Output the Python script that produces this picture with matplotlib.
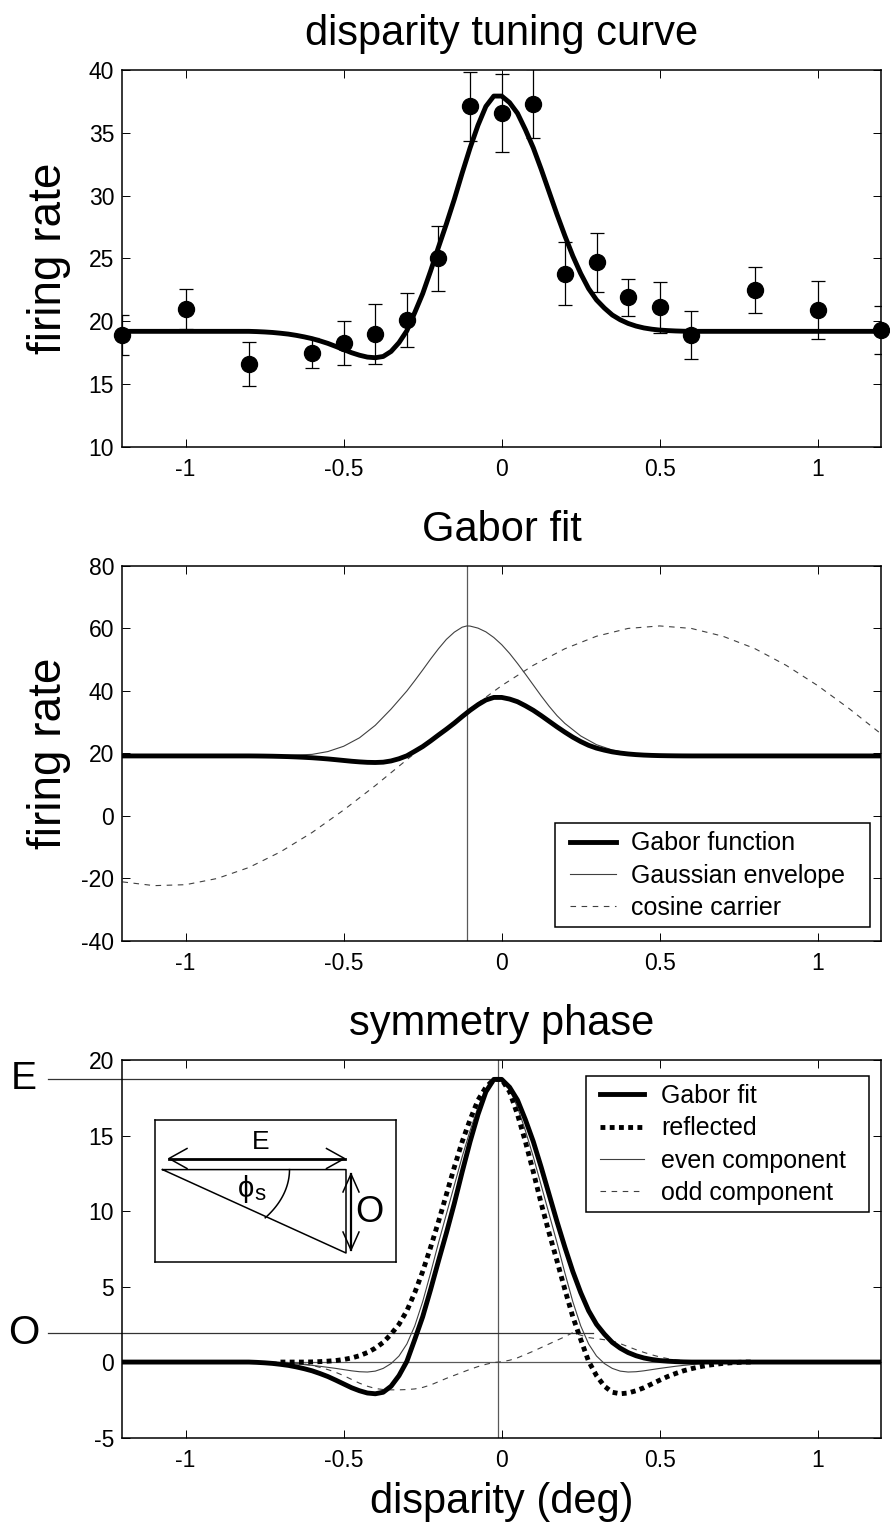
import numpy as np
import matplotlib
matplotlib.use('Agg')
import matplotlib.pyplot as plt
from matplotlib.patches import Rectangle
from matplotlib.transforms import blended_transform_factory

plt.rcParams['font.family'] = ['Liberation Sans', 'DejaVu Sans']
plt.rcParams['axes.unicode_minus'] = False

##########################################################################################
# data
##########################################################################################
# disparity tuning curve: mean firing rate +- s.e.m.
disp_pts = [-1.2, -1.0, -0.8, -0.6, -0.5, -0.4, -0.3, -0.2, -0.1, 0.0,
            0.1, 0.2, 0.3, 0.4, 0.5, 0.6, 0.8, 1.0, 1.2]
rate_pts = [18.9, 21.0, 16.6, 17.5, 18.3, 19.0, 20.1, 25.0, 37.1, 36.6,
            37.3, 23.8, 24.7, 21.9, 21.1, 18.9, 22.5, 20.9, 19.3]
rate_sem = [1.6, 1.6, 1.75, 1.2, 1.75, 2.4, 2.15, 2.6, 2.75, 3.1,
            2.75, 2.5, 2.35, 1.45, 2.0, 1.9, 1.85, 2.3, 1.9]

baseline = 19.2   # spontaneous rate of the Gabor fit

# Gabor fit with the baseline removed
fit_disp = [-1.2, -1.0] + list(np.round(np.linspace(-0.8, 0.6, 57), 3)) + [0.8, 1.0, 1.2]
fit_resp = [0, 0, 0, -0.02, -0.05, -0.09, -0.15, -0.22, -0.32, -0.44, -0.58, -0.76,
            -0.96, -1.20, -1.45, -1.70, -1.90, -2.05, -2.10, -2.00, -1.60, -0.90, 0.05,
            1.50, 3.00, 4.80, 6.70, 8.55, 10.50, 12.60, 14.60, 16.40, 17.90, 18.72, 18.72,
            18.20, 17.35, 16.05, 14.60, 12.90, 11.10, 9.30, 7.60, 6.00, 4.60, 3.40, 2.50,
            1.85, 1.30, 0.92, 0.63, 0.42, 0.27, 0.17, 0.10, 0.06, 0.03, 0.01, 0, 0, 0, 0]

# Gaussian envelope and cosine carrier of the fit
env_disp = [-1.2, -0.8, -0.7, -0.6, -0.55, -0.5, -0.45, -0.4, -0.35, -0.3, -0.275, -0.25,
            -0.225, -0.2, -0.175, -0.15, -0.125, -0.11, -0.1, -0.075, -0.05, -0.025, 0.0,
            0.025, 0.05, 0.075, 0.1, 0.125, 0.15, 0.175, 0.2, 0.25, 0.3, 0.35, 0.4, 0.45,
            0.5, 0.6, 1.2]
env_rate = [19.2, 19.2, 19.3, 19.7, 20.6, 22.3, 25.0, 29.0, 34.2, 40.0, 43.3, 46.7,
            50.2, 53.5, 56.5, 58.8, 60.4, 60.8, 60.75, 60.1, 58.9, 57.1, 54.8,
            52.0, 48.8, 45.4, 41.9, 38.4, 35.1, 32.1, 29.6, 25.6, 22.8, 21.1, 20.1, 19.6,
            19.4, 19.2, 19.2]
car_disp = list(np.round(np.linspace(-1.2, 1.2, 25), 2))
car_rate = [-21.1, -22.3, -22.0, -20.0, -16.5, -11.5, -5.3, 1.9, 9.7, 18.0, 26.2, 34.3,
            41.7, 48.2, 53.5, 57.5, 60.0, 60.8, 60.0, 57.5, 53.6, 48.2, 41.7, 34.3, 26.3]

# symmetry phase decomposition
mirror_x  = -0.0125
refl_disp = list(np.round(np.linspace(-0.7, 0.8, 61), 3))
refl_resp = [0, 0, 0, 0, 0.01, 0.03, 0.06, 0.10, 0.17, 0.27, 0.42, 0.63, 0.92, 1.30,
             1.85, 2.50, 3.40, 4.60, 6.00, 7.60, 9.30, 11.10, 12.90, 14.60, 16.05, 17.35,
             18.20, 18.72, 18.72, 17.90, 16.40, 14.60, 12.60, 10.50, 8.55, 6.70, 4.80,
             3.00, 1.50, 0.05, -0.90, -1.60, -2.00, -2.10, -2.05, -1.90, -1.70, -1.45,
             -1.20, -0.96, -0.76, -0.58, -0.44, -0.32, -0.22, -0.15, -0.09, -0.05, -0.02, 0, 0]
comp_disp = list(np.round(np.linspace(-0.8, 0.8, 65), 3))
even_resp = [0, -0.005, -0.015, -0.03, -0.05, -0.08, -0.12, -0.17, -0.22, -0.28, -0.35,
             -0.42, -0.5, -0.58, -0.64, -0.66, -0.6, -0.42, -0.1, 0.4, 1.2, 2.4, 4.0, 5.9,
             7.9, 9.8, 11.7, 13.6, 15.325, 16.875, 18.05, 18.72,
             18.72, 18.05, 16.875, 15.325, 13.6, 11.7, 9.8, 7.9, 5.9, 4.0, 2.4, 1.2, 0.4,
             -0.1, -0.42, -0.6, -0.66, -0.64, -0.58, -0.5, -0.42, -0.35, -0.28, -0.22,
             -0.17, -0.12, -0.08, -0.05, -0.03, -0.015, -0.005, 0, 0]
odd_resp  = [0, 0, 0, 0, -0.01, -0.03, -0.07, -0.13, -0.22, -0.35, -0.5, -0.68, -0.9,
             -1.15, -1.4, -1.6, -1.75, -1.82, -1.84, -1.84, -1.82, -1.78, -1.68, -1.52,
             -1.3, -1.08, -0.88, -0.68, -0.48, -0.3, -0.15, -0.03,
             0.02, 0.12, 0.28, 0.50, 0.72, 0.96, 1.20, 1.44, 1.68, 1.95, 1.78, 1.62, 1.55,
             1.48, 1.40, 1.22, 1.02, 0.82, 0.64, 0.48, 0.34, 0.23, 0.15, 0.09, 0.05, 0.02,
             0, 0, 0, 0, 0, 0, 0]

fit_rate = baseline + np.array(fit_resp)
ref_col  = '0.35'
thin_col = '0.25'

##########################################################################################
# figure
##########################################################################################
fig = plt.figure(figsize=(8.9, 15.37), dpi=100, facecolor='w')
L, W = 0.1376, 0.8522
ax1 = fig.add_axes([L, 0.7092, W, 0.2453])
ax2 = fig.add_axes([L, 0.3878, W, 0.2440])
ax3 = fig.add_axes([L, 0.0647, W, 0.2456])

def style(ax, yticks):
    ax.set_xlim(-1.2, 1.2)
    ax.set_xticks([-1, -0.5, 0, 0.5, 1])
    ax.set_xticklabels(['-1', '-0.5', '0', '0.5', '1'])
    ax.set_ylim(yticks[0], yticks[-1])
    ax.set_yticks(yticks)
    ax.set_yticklabels([str(v) for v in yticks])
    ax.tick_params(direction='in', length=5.5, width=0.7, top=True, right=True,
                   labelsize=16.5)
    ax.tick_params(axis='x', pad=8)
    ax.tick_params(axis='y', pad=6)
    for s in ax.spines.values():
        s.set_linewidth(1.1)

def boxed_legend(ax, box, anchor, hlen, hpad):
    # frame drawn by hand so the padding matches the original
    ax.add_patch(Rectangle((box[0], box[1]), box[2] - box[0], box[3] - box[1],
                           transform=ax.transAxes, facecolor='w', edgecolor='k',
                           lw=1.1, zorder=5))
    leg = ax.legend(loc='upper left', bbox_to_anchor=anchor, borderaxespad=0,
                    borderpad=0, frameon=False, fontsize=18, handlelength=hlen,
                    handletextpad=hpad, labelspacing=0.33)
    leg.set_zorder(6)

# --- disparity tuning curve
ax1.plot(fit_disp, fit_rate, '-k', lw=3.5, zorder=2)
eb = ax1.errorbar(disp_pts, rate_pts, yerr=rate_sem, fmt='o', color='k', ms=11.5,
                  ecolor='k', elinewidth=0.9, capsize=5, capthick=0.9, zorder=3)
eb[0].set_clip_on(False)
style(ax1, [10, 15, 20, 25, 30, 35, 40])
ax1.set_title('disparity tuning curve', fontsize=30, pad=18)
ax1.set_ylabel('firing rate', fontsize=33)
ax1.yaxis.set_label_coords(-0.068, 0.5)

# --- Gabor fit
env_peak = env_disp[int(np.argmax(env_rate))]
ax2.axvline(env_peak, color=ref_col, lw=0.9, zorder=1)
ax2.plot(fit_disp, fit_rate, '-k', lw=3.5, label='Gabor function', zorder=3)
ax2.plot(env_disp, env_rate, '-', color=thin_col, lw=0.8, label='Gaussian envelope', zorder=2)
ax2.plot(car_disp, car_rate, '--', color=thin_col, lw=0.8, dashes=(5, 5),
         label='cosine carrier', zorder=2)
style(ax2, [-40, -20, 0, 20, 40, 60, 80])
ax2.set_title('Gabor fit', fontsize=30, pad=18)
ax2.set_ylabel('firing rate', fontsize=33)
ax2.yaxis.set_label_coords(-0.068, 0.5)
boxed_legend(ax2, (0.570, 0.038, 0.9855, 0.314), (0.590, 0.292), 1.84, 0.6)

# --- symmetry phase
e_val = max(fit_resp)
o_val = max(odd_resp)
x_out = -1.2 - 0.098 * 2.4          # lines start left of the axes
o_end = 0.29
ax3.axvline(mirror_x, color=ref_col, lw=0.9, zorder=1)
ax3.axhline(0, color=ref_col, lw=0.9, zorder=1)
ax3.plot([x_out, mirror_x], [e_val, e_val], color='0.2', lw=0.9, clip_on=False, zorder=1)
ax3.plot([x_out, o_end], [o_val, o_val], color='0.2', lw=0.9, clip_on=False, zorder=1)
ax3.plot(fit_disp, fit_resp, '-k', lw=3.5, label='Gabor fit', zorder=3)
ax3.plot(refl_disp, refl_resp, color='k', lw=3.5, linestyle=(0, (1, 0.9)),
         dash_capstyle='butt', label='reflected', zorder=4)
ax3.plot(comp_disp, even_resp, '-', color=thin_col, lw=0.8, label='even component', zorder=2)
ax3.plot(comp_disp, odd_resp, '--', color=thin_col, lw=0.8, dashes=(5, 5),
         label='odd component', zorder=2)
style(ax3, [-5, 0, 5, 10, 15, 20])
ax3.set_title('symmetry phase', fontsize=30, pad=18)
ax3.set_xlabel('disparity (deg)', fontsize=30)
ax3.xaxis.set_label_coords(0.5, -0.118)
boxed_legend(ax3, (0.611, 0.597, 0.9848, 0.9576), (0.6295, 0.936), 1.76, 0.68)

tr = blended_transform_factory(ax3.transAxes, ax3.transData)
ax3.text(-0.13, e_val, 'E', transform=tr, fontsize=28, ha='center', va='center')
ax3.text(-0.13, o_val, 'O', transform=tr, fontsize=29, ha='center', va='center')

# --- inset sketch of the phase triangle (pixel units of the inset box)
axi = fig.add_axes([155 / 890, 1 - 1262 / 1537, 241 / 890, 142 / 1537])
axi.set_xlim(0, 241)
axi.set_ylim(142, 0)
axi.set_xticks([])
axi.set_yticks([])
for s in axi.spines.values():
    s.set_linewidth(1.1)
axi.plot([7.5, 191, 191, 7.5], [49.6, 49.6, 133, 49.6], '-k', lw=1.1)
# E arrow
axi.plot([14, 189.5], [38.5, 38.5], '-k', lw=2.0)
axi.plot([32, 14, 32], [28.5, 38.5, 48.5], '-k', lw=1.1)
axi.plot([171.5, 189.5, 171.5], [28.5, 38.5, 48.5], '-k', lw=1.1)
# O arrow
axi.plot([196, 196], [54, 130], '-k', lw=1.6)
axi.plot([188, 196, 204], [72, 54, 72], '-k', lw=1.1)
axi.plot([188, 196, 204], [112, 130, 112], '-k', lw=1.1)
# angle arc from the top edge down to the hypotenuse
t = np.deg2rad(np.linspace(0, 36, 40))
axi.plot(7.5 + 127 * np.cos(t), 49.6 + 82 * np.sin(t), '-k', lw=1.1)
axi.text(106, 22, 'E', fontsize=19, ha='center', va='center')
axi.text(214, 92, 'O', fontsize=26, ha='center', va='center')
axi.text(91, 69, '\u03d5', fontsize=21, ha='center', va='center')
axi.text(104.5, 75, 's', fontsize=16, ha='center', va='center')

fig.savefig('out.png', dpi=100, facecolor='w')
